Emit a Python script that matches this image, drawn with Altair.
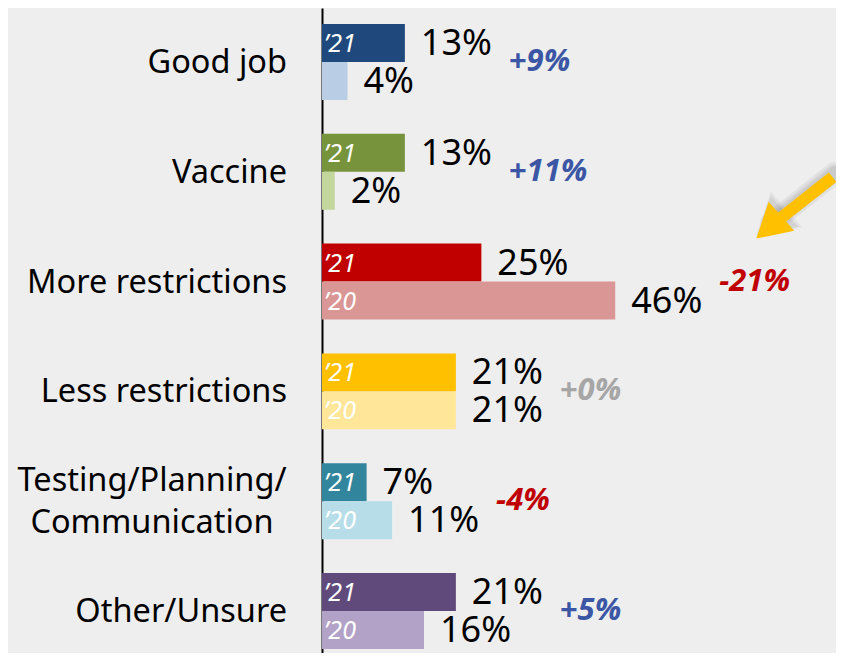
import altair as alt
import pandas as pd

categories = ["Good job", "Vaccine", "More restrictions", "Less restrictions",
              "Testing/Planning/\nCommunication", "Other/Unsure"]
values_21 = [13, 13, 25, 21, 7, 21]
values_20 = [4, 2, 46, 21, 11, 16]
colors_21 = ["#1F497D", "#77933C", "#C00000", "#FFC000", "#31859C", "#604A7B"]
colors_20 = ["#B9CDE5", "#C3D69B", "#D99694", "#FFE699", "#B7DEE8", "#B3A2C7"]
changes = ["+9%", "+11%", "-21%", "+0%", "-4%", "+5%"]
change_colors = ["#3A56A5", "#3A56A5", "#C00000", "#A6A6A6", "#C00000", "#3A56A5"]
year_labels = ["\u201921", "\u201920"]

# arrow annotation (x in %, y in category-index units)
arrow_x = [80.1]
arrow_x2 = [70.1]
arrow_y = [1.05]
arrow_y2 = [1.507]

BAR = 0.346  # thickness of one bar in category-index units

rows = []
for i, c in enumerate(categories):
    for k, (yl, vals, cols) in enumerate(((year_labels[0], values_21, colors_21),
                                          (year_labels[1], values_20, colors_20))):
        rows.append({"cat": c, "idx": i, "k": k, "year": yl, "value": vals[i],
                     "color": cols[i], "label": f"{vals[i]}%",
                     "show": bool(vals[i] >= 5)})
bars_df = pd.DataFrame(rows)

chg_df = pd.DataFrame({"cat": categories, "idx": list(range(len(categories))),
                       "change": changes, "color": change_colors,
                       "maxv": [max(a, b) for a, b in zip(values_21, values_20)]})
cat_df = pd.DataFrame({"cat": categories, "idx": list(range(len(categories)))})
arrow_df = pd.DataFrame({"x": arrow_x, "x2": arrow_x2, "y": arrow_y, "y2": arrow_y2})

FONT = "Noto Sans"
xsc = alt.Scale(domain=[0, 80.63], nice=False, zero=True)
ysc = alt.Scale(domain=[-0.492, 5.383], reverse=True, nice=False, zero=False)

base = alt.Chart(bars_df).transform_calculate(
    y0=f"datum.idx + (datum.k - 1) * {BAR}",
    y1=f"datum.idx + datum.k * {BAR}",
    yc=f"datum.idx + (datum.k - 0.5) * {BAR}",
)

bars = base.mark_rect().encode(
    x=alt.X("value:Q", scale=xsc, axis=None),
    x2=alt.datum(0),
    y=alt.Y("y0:Q", scale=ysc,
            axis=alt.Axis(labels=False, ticks=False, domain=True, domainColor="black",
                          domainWidth=2, grid=False, title=None)),
    y2="y1:Q",
    color=alt.Color("color:N", scale=None),
)

year_txt = base.transform_filter("datum.show").mark_text(
    align="left", baseline="middle", dx=2, dy=1, font=FONT, fontSize=25,
    fontStyle="italic", color="white"
).encode(x=alt.datum(0), y=alt.Y("yc:Q", scale=ysc), text="year:N")

val_txt = base.mark_text(
    align="left", baseline="middle", dx=16, dy=1, font=FONT, fontSize=36, color="black"
).encode(x=alt.X("value:Q", scale=xsc), y=alt.Y("yc:Q", scale=ysc), text="label:N")

chg_txt = alt.Chart(chg_df).mark_text(
    align="left", baseline="middle", dx=104, font=FONT, fontSize=31,
    fontStyle="italic", fontWeight="bold"
).encode(x=alt.X("maxv:Q", scale=xsc), y=alt.Y("idx:Q", scale=ysc), text="change:N",
         color=alt.Color("color:N", scale=None))

cat_txt = alt.Chart(cat_df).transform_filter("indexof(datum.cat, '\\n') < 0").mark_text(
    align="right", baseline="middle", dx=-35, dy=1, font=FONT, fontSize=32.5, color="black"
).encode(x=alt.datum(0), y=alt.Y("idx:Q", scale=ysc), text="cat:N")

cat_txt2 = alt.Chart(cat_df).transform_filter("indexof(datum.cat, '\\n') >= 0").mark_text(
    align="center", baseline="middle", dx=-170, dy=-20, font=FONT, fontSize=32.5,
    color="black", lineBreak="\n", lineHeight=42
).encode(x=alt.datum(0), y=alt.Y("idx:Q", scale=ysc), text="cat:N")

arrow_base = alt.Chart(arrow_df).transform_calculate(
    sx="datum.x + 0.35", sx2="datum.x2 + 0.35",
    sy="datum.y - 0.04", sy2="datum.y2 - 0.04",
)
shadows = []
for w, sz in ((22, 2300), (17, 1900), (13, 1600)):
    shadows.append(arrow_base.mark_rule(color="#000000", opacity=0.05, strokeWidth=w,
                                        strokeCap="round").encode(
        x=alt.X("sx:Q", scale=xsc), x2="sx2:Q",
        y=alt.Y("sy:Q", scale=ysc), y2="sy2:Q"))
    shadows.append(arrow_base.mark_point(shape="triangle-up", size=sz, angle=228.5,
                                         filled=True, color="#000000", opacity=0.04).encode(
        x=alt.X("sx2:Q", scale=xsc), y=alt.Y("sy2:Q", scale=ysc)))
shaft = arrow_base.mark_rule(color="#FFC000", strokeWidth=12, strokeCap="butt").encode(
    x=alt.X("x:Q", scale=xsc), x2="x2:Q",
    y=alt.Y("y:Q", scale=ysc), y2="y2:Q")
head = arrow_base.mark_point(shape="triangle-up", size=1500, angle=228.5,
                             filled=True, color="#FFC000", opacity=1).encode(
    x=alt.X("x2:Q", scale=xsc),
    y=alt.Y("y2:Q", scale=ysc))

chart = alt.layer(bars, year_txt, val_txt, chg_txt, cat_txt, cat_txt2,
                  *shadows, shaft, head).properties(
    width=514, height=645, background="#EEEEEE",
    padding={"left": 314, "top": 0, "right": 0, "bottom": 0},
    autosize=alt.AutoSizeParams(type="none"),
).configure_view(stroke=None)

chart.save("out.html", embed_options={"renderer": "svg", "actions": False})
